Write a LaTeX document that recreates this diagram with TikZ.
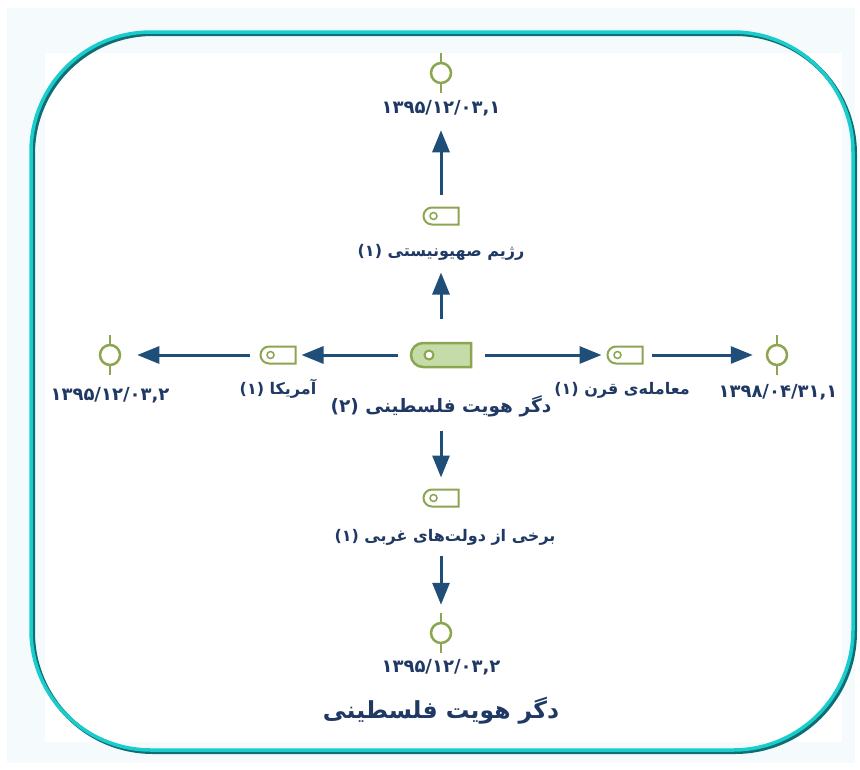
\documentclass[tikz,border=0pt]{standalone}
\usepackage{fontspec}
\newfontfamily\arabicfont[Script=Arabic]{DejaVu Sans}
\TeXXeTstate=1
\usetikzlibrary{arrows.meta,shapes.misc}

\definecolor{textNavy}{RGB}{31,56,100}
\definecolor{arrowBlue}{RGB}{31,78,121}
\definecolor{tagGreen}{RGB}{140,165,80}
\definecolor{tagFill}{RGB}{198,220,168}
\definecolor{frameCyan}{RGB}{25,205,205}
\definecolor{frameTeal}{RGB}{15,110,115}
\definecolor{paleBack}{RGB}{245,251,252}

\begin{document}
\begin{tikzpicture}[
    x = 1pt,
    y = -1pt,
    >={Triangle[length=22pt, width=17pt]},
    tag_big/.style = {rounded rectangle, rounded rectangle right arc=none,
              draw=tagGreen, fill=tagFill, line width=2.5pt,
              minimum width=60pt, minimum height=24pt, inner sep=0pt,
              path picture={\draw[tagGreen, fill=white, line width=2pt]
                ([xshift=18pt]path picture bounding box.west) circle (4.5pt);}},
    tag_small/.style = {rounded rectangle, rounded rectangle right arc=none,
              draw=tagGreen, fill=white, line width=2pt,
              minimum width=35pt, minimum height=17pt, inner sep=0pt,
              path picture={\draw[tagGreen, line width=1.5pt]
                ([xshift=10pt]path picture bounding box.west) circle (3.5pt);}},
    end_mark/.style = {circle, draw=tagGreen, fill=white, line width=2.5pt,
              minimum size=20pt, inner sep=0pt,
              append after command={(\tikzlastnode.north) edge[tagGreen, line width=2.5pt] +(0,-9)
                                    (\tikzlastnode.south) edge[tagGreen, line width=2.5pt] +(0,9)}},
    name_text/.style = {text=textNavy, inner sep=0pt,
              font=\arabicfont\bfseries\fontsize{16}{19}\selectfont},
    date_text/.style = {text=textNavy, inner sep=0pt,
              font=\arabicfont\bfseries\fontsize{18}{21}\selectfont},
    flow/.style = {->, draw=arrowBlue, line width=3pt},
    ]

\useasboundingbox (0,0) rectangle (860,769);

% frame
\fill[paleBack] (7,8) rectangle (855,763);
\fill[white] (45,53) rectangle (842,742);
\draw[frameTeal, line width=4pt, rounded corners=120pt] (33,34) rectangle (855,752);
\draw[frameCyan, line width=3.5pt, rounded corners=120pt] (31,32) rectangle (853,750);

% centre
\node[tag_big] (tag_center) at (441,355){};
\node[name_text, font=\arabicfont\bfseries\fontsize{18.5}{22}\selectfont] (name_center) at (441,406)
    {(۲) \beginR دگر هویت فلسطینی\endR};

% top
\node[tag_small] (tag_top) at (441,216){};
\node[name_text] (name_top) at (441,252) {(۱) \beginR رژیم صهیونیستی\endR};
\node[end_mark] (end_top) at (441,73){};
\node[date_text] (date_top) at (441,108) {۱۳۹۵/۱۲/۰۳,۱};

% left
\node[tag_small] (tag_left) at (278,355){};
\node[name_text] (name_left) at (278,389) {(۱) \beginR آمریکا\endR};
\node[end_mark] (end_left) at (110,355){};
\node[date_text] (date_left) at (110,395) {۱۳۹۵/۱۲/۰۳,۲};

% right
\node[tag_small] (tag_right) at (625,355){};
\node[name_text] (name_right) at (622,390) {(۱) \beginR معامله^^^^200cی قرن\endR};
\node[end_mark] (end_right) at (777,355){};
\node[date_text] (date_right) at (778,392) {۱۳۹۸/۰۴/۳۱,۱};

% bottom
\node[tag_small] (tag_bottom) at (441,498){};
\node[name_text] (name_bottom) at (445,537) {(۱) \beginR برخی از دولت^^^^200cهای غربی\endR};
\node[end_mark] (end_bottom) at (441,633){};
\node[date_text] (date_bottom) at (441,667) {۱۳۹۵/۱۲/۰۳,۲};

\node[name_text, font=\arabicfont\bfseries\fontsize{23.5}{27}\selectfont] (title) at (441,711)
    {\beginR دگر هویت فلسطینی\endR};

% arrows
\draw[flow, shorten <=23pt, shorten >=47pt] (tag_center) -- (tag_top);
\draw[flow, shorten <=12pt, shorten >=46pt] (tag_top) -- (end_top);
\draw[flow, shorten <=12pt, shorten >=5pt] (tag_center) -- (tag_left);
\draw[flow, shorten <=10pt, shorten >=16pt] (tag_left) -- (end_left);
\draw[flow, shorten <=13pt, shorten >=5pt] (tag_center) -- (tag_right);
\draw[flow, shorten <=8pt, shorten >=13pt] (tag_right) -- (end_right);
\draw[flow, shorten <=63pt, shorten >=11pt] (tag_center) -- (tag_bottom);
\draw[flow, shorten <=48pt, shorten >=17pt] (tag_bottom) -- (end_bottom);

\end{tikzpicture}
\end{document}
